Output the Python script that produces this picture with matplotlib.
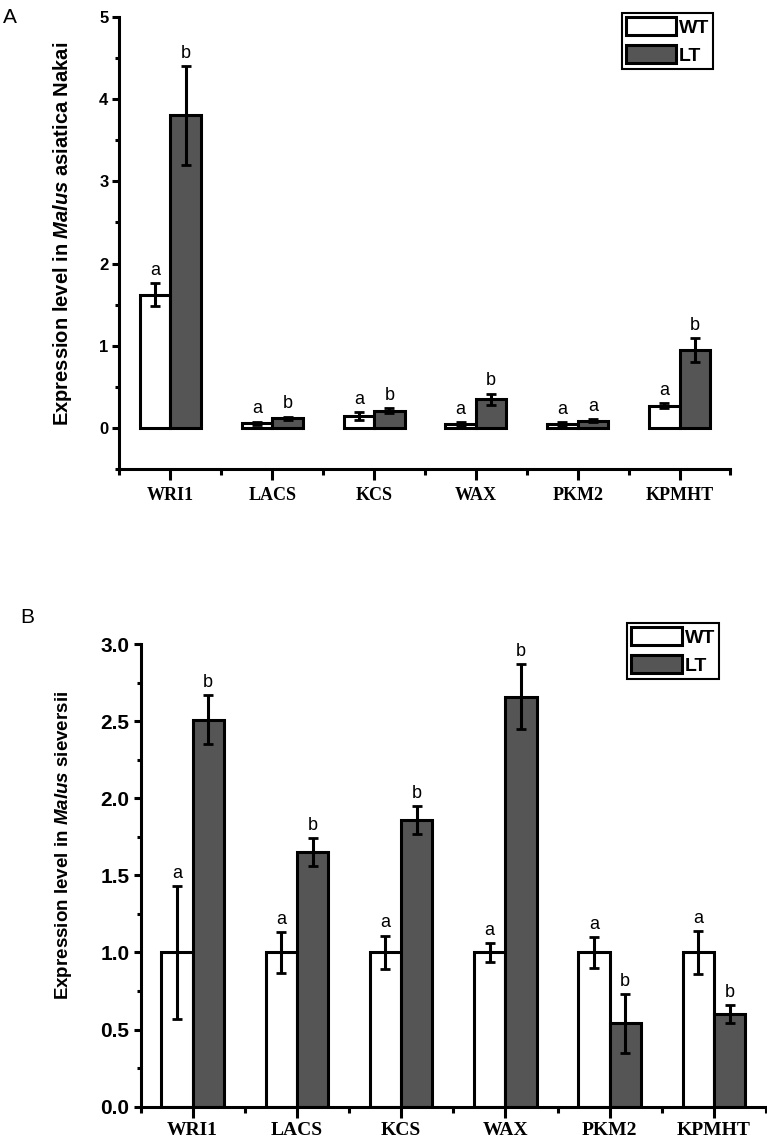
import numpy as np
import matplotlib
matplotlib.use('Agg')
import matplotlib.pyplot as plt
from matplotlib.ticker import MultipleLocator, FixedLocator

plt.rcParams['font.family'] = ['Liberation Sans', 'DejaVu Sans']
plt.rcParams['mathtext.fontset'] = 'custom'
plt.rcParams['mathtext.it'] = 'Liberation Sans:italic:bold'
plt.rcParams['mathtext.rm'] = 'Liberation Sans:bold'

genes = ['WRI1', 'LACS', 'KCS', 'WAX', 'PKM2', 'KPMHT']

# panel A - Malus asiatica Nakai
a_wt = [1.62, 0.06, 0.15, 0.05, 0.05, 0.27]
a_wt_err = [0.14, 0.02, 0.05, 0.02, 0.02, 0.03]
a_lt = [3.80, 0.12, 0.21, 0.35, 0.09, 0.95]
a_lt_err = [0.60, 0.02, 0.03, 0.07, 0.02, 0.14]
a_wt_sig = ['a', 'a', 'a', 'a', 'a', 'a']
a_lt_sig = ['b', 'b', 'b', 'b', 'a', 'b']

# panel B - Malus sieversii
b_wt = [1.0, 1.0, 1.0, 1.0, 1.0, 1.0]
b_wt_err = [0.43, 0.13, 0.11, 0.06, 0.10, 0.14]
b_lt = [2.51, 1.65, 1.86, 2.66, 0.54, 0.60]
b_lt_err = [0.16, 0.09, 0.09, 0.21, 0.19, 0.06]
b_wt_sig = ['a', 'a', 'a', 'a', 'a', 'a']
b_lt_sig = ['b', 'b', 'b', 'b', 'b', 'b']

LT_COLOR = '#555555'
LW = 2.2


def draw_panel(ax, wt, wt_err, lt, lt_err, wt_sig, lt_sig, ylim, major, minor,
               ylabel, ylabel_size, ytick_size, xtick_size, fmt, xpad):
    x = np.arange(len(genes))
    w = 0.3
    b1 = ax.bar(x - w / 2, wt, w, color='white', edgecolor='black', linewidth=LW,
                label='WT', zorder=2)
    b2 = ax.bar(x + w / 2, lt, w, color=LT_COLOR, edgecolor='black', linewidth=LW,
                label='LT', zorder=2)
    for xs, vals, errs in [(x - w / 2, wt, wt_err), (x + w / 2, lt, lt_err)]:
        ax.errorbar(xs, vals, yerr=errs, fmt='none', ecolor='black', elinewidth=LW,
                    capsize=3.5, capthick=2, zorder=3)
    for xs, vals, errs, sig in [(x - w / 2, wt, wt_err, wt_sig), (x + w / 2, lt, lt_err, lt_sig)]:
        for xi, v, e, s in zip(xs, vals, errs, sig):
            ax.annotate(s, (xi, v + e), xytext=(0, 3), textcoords='offset points',
                        ha='center', va='bottom', fontsize=13)

    ax.set_xlim(-0.5, len(genes) - 0.5)
    ax.set_ylim(*ylim)
    for s in ['top', 'right']:
        ax.spines[s].set_visible(False)
    for s in ['left', 'bottom']:
        ax.spines[s].set_linewidth(LW)

    ax.xaxis.set_major_locator(FixedLocator(x))
    ax.xaxis.set_minor_locator(FixedLocator(np.arange(-0.5, len(genes), 1.0)))
    ax.set_xticklabels(genes, fontfamily='Liberation Serif', fontweight='bold',
                       fontsize=xtick_size)
    ax.tick_params(axis='x', which='major', length=8, width=LW, pad=xpad)
    ax.tick_params(axis='x', which='minor', length=4, width=LW)

    ax.yaxis.set_major_locator(MultipleLocator(major))
    ax.yaxis.set_minor_locator(MultipleLocator(minor))
    ax.set_yticks(np.arange(0, ylim[1] + 1e-9, major))
    ax.set_yticklabels([fmt.format(v) for v in np.arange(0, ylim[1] + 1e-9, major)],
                       fontweight='bold', fontsize=ytick_size)
    ax.tick_params(axis='y', which='major', length=5, width=LW, pad=3)
    ax.tick_params(axis='y', which='minor', length=3, width=LW)

    ax.set_ylabel(ylabel, fontsize=ylabel_size, fontweight='bold')
    return b1, b2


def add_legend(ax, handles, x0, y0):
    leg = ax.legend(handles=handles, loc='upper left', bbox_to_anchor=(x0 / 767, 1 - y0 / 1143),
                    bbox_transform=fig.transFigure, fancybox=False, edgecolor='black',
                    framealpha=1, handlelength=2.6, handleheight=1.0, borderpad=0.2,
                    labelspacing=0.45, handletextpad=0.15, borderaxespad=0,
                    prop={'weight': 'bold', 'size': 14})
    leg.get_frame().set_linewidth(1.5)


fig = plt.figure(figsize=(7.67, 11.43), dpi=100)

ax1 = fig.add_axes([0.1558, 0.5894, 0.7966, 0.396])
h1 = draw_panel(ax1, a_wt, a_wt_err, a_lt, a_lt_err, a_wt_sig, a_lt_sig,
                (-0.5, 5), 1, 0.5, r'Expression level in $Malus$ asiatica Nakai',
                14.5, 12, 13, '{:.0f}', 5)
ax1.yaxis.set_label_coords(-0.075, 0.52)
add_legend(ax1, h1, 621.7, 13.3)

ax2 = fig.add_axes([0.1832, 0.0318, 0.8155, 0.4046])
h2 = draw_panel(ax2, b_wt, b_wt_err, b_lt, b_lt_err, b_wt_sig, b_lt_sig,
                (0, 3), 0.5, 0.25, r'Expression level in $Malus$ sieversii',
                13.5, 15, 14, '{:.1f}', 3)
ax2.yaxis.set_label_coords(-0.107, 0.564)
add_legend(ax2, h2, 627.3, 623.3)

fig.text(3 / 767, 1 - 8 / 1143, 'A', fontsize=15, ha='left', va='top')
fig.text(20 / 767, 1 - 608 / 1143, 'B', fontsize=15, ha='left', va='top')

fig.savefig('out.png', dpi=100)
